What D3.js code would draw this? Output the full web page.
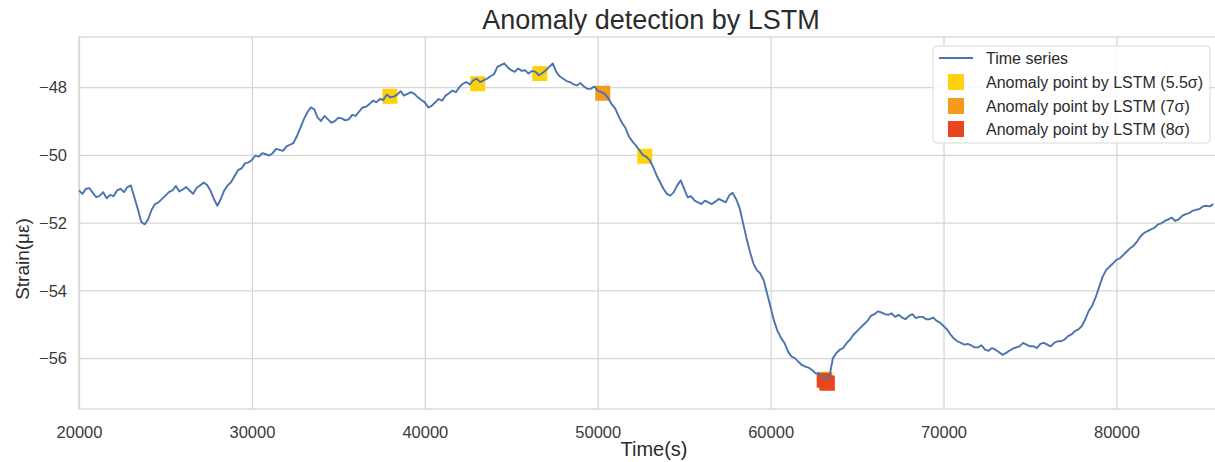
<!DOCTYPE html>
<html>
<head>
<meta charset="utf-8">
<script src="https://cdn.jsdelivr.net/npm/d3@7"></script>
<style>
  body { margin: 0; background: #fff; }
  text { font-family: "Liberation Sans", Arial, sans-serif; }
</style>
</head>
<body>
<script>
// sampled strain series, one reading every 200 s from t0
const t0 = 20000
const dt = 200
const strain = [
  -51.05, -51.15, -51.0, -50.98, -51.12, -51.25, -51.2, -51.1, -51.28, -51.18,
  -51.22, -51.05, -51.0, -51.1, -50.95, -50.9, -51.25, -51.6, -51.98, -52.05,
  -51.9, -51.62, -51.45, -51.4, -51.3, -51.2, -51.1, -51.05, -50.92, -51.08,
  -51.02, -50.95, -51.05, -51.15, -50.98, -50.9, -50.82, -50.88, -51.05, -51.3,
  -51.5, -51.3, -51.05, -50.9, -50.8, -50.62, -50.45, -50.4, -50.25, -50.22,
  -50.15, -50.02, -50.05, -49.95, -49.98, -50.02, -49.95, -49.82, -49.85, -49.88,
  -49.75, -49.7, -49.65, -49.45, -49.2, -48.95, -48.75, -48.6, -48.65, -48.9,
  -49.0, -48.85, -48.95, -49.05, -49.0, -48.9, -48.92, -48.98, -48.95, -48.82,
  -48.85, -48.72, -48.6, -48.58, -48.5, -48.4, -48.45, -48.35, -48.38, -48.22,
  -48.3, -48.28, -48.22, -48.12, -48.25, -48.2, -48.15, -48.2, -48.3, -48.38,
  -48.45, -48.6, -48.55, -48.45, -48.35, -48.4, -48.25, -48.18, -48.1, -48.15,
  -48.0, -47.9, -47.85, -47.92, -47.8, -47.75, -47.85, -47.8, -47.75, -47.68,
  -47.62, -47.4, -47.35, -47.3, -47.42, -47.5, -47.55, -47.45, -47.52, -47.5,
  -47.6, -47.52, -47.55, -47.65, -47.58, -47.5, -47.4, -47.3, -47.55, -47.68,
  -47.75, -47.82, -47.85, -47.92, -47.95, -47.88, -47.98, -48.05, -48.05, -47.98,
  -48.1, -48.15, -48.2, -48.32, -48.5, -48.62, -48.85, -49.05, -49.2, -49.45,
  -49.6, -49.72, -49.85, -50.0, -50.05, -50.15, -50.35, -50.6, -50.8, -51.0,
  -51.15, -51.2, -51.1, -50.9, -50.75, -51.0, -51.25, -51.22, -51.35, -51.4,
  -51.45, -51.35, -51.4, -51.45, -51.38, -51.3, -51.35, -51.4, -51.2, -51.12,
  -51.3, -51.55, -52.0, -52.45, -52.85, -53.2, -53.4, -53.5, -53.7, -54.1,
  -54.5, -54.9, -55.2, -55.4, -55.55, -55.8, -55.95, -56.0, -56.1, -56.2,
  -56.25, -56.28, -56.35, -56.45, -56.45, -56.55, -56.6, -56.55, -56.0, -55.85,
  -55.75, -55.7, -55.55, -55.45, -55.3, -55.2, -55.1, -55.0, -54.9, -54.75,
  -54.7, -54.62, -54.65, -54.7, -54.72, -54.68, -54.78, -54.72, -54.8, -54.85,
  -54.75, -54.7, -54.82, -54.78, -54.78, -54.85, -54.85, -54.8, -54.9, -54.95,
  -55.05, -55.15, -55.3, -55.42, -55.5, -55.55, -55.6, -55.58, -55.62, -55.68,
  -55.68, -55.62, -55.75, -55.78, -55.7, -55.75, -55.82, -55.9, -55.85, -55.78,
  -55.72, -55.68, -55.65, -55.55, -55.6, -55.65, -55.65, -55.7, -55.58, -55.55,
  -55.6, -55.65, -55.55, -55.5, -55.5, -55.45, -55.35, -55.3, -55.2, -55.15,
  -55.05, -54.85, -54.6, -54.45, -54.2, -53.9, -53.6, -53.4, -53.3, -53.2,
  -53.1, -53.05, -52.95, -52.85, -52.75, -52.68, -52.55, -52.4, -52.3, -52.25,
  -52.2, -52.15, -52.05, -52.02, -51.95, -51.9, -51.85, -51.95, -51.9, -51.8,
  -51.75, -51.72, -51.65, -51.62, -51.6, -51.52, -51.5, -51.52, -51.45
]

// anomaly points [time, strain]
const anom55 = [[37980, -48.27], [43060, -47.9], [46650, -47.6], [52720, -50.04], [63150, -56.62]]
const anom7 = [[50290, -48.18], [63230, -56.72]]
const anom8 = [[63100, -56.65], [63280, -56.74]]

const xTicks = [20000, 30000, 40000, 50000, 60000, 70000, 80000]
const yTicks = [-48, -50, -52, -54, -56]

const legendLabels = ['Time series', 'Anomaly point by LSTM (5.5σ)', 'Anomaly point by LSTM (7σ)', 'Anomaly point by LSTM (8σ)']

const W = 1215, H = 462
const m = { left: 79, right: 1215, top: 37, bottom: 409 }
const lineColor = '#4c72b0'
const c55 = '#fdd20a', c7 = '#f59b1c', c8 = '#e9451f'

const svg = d3.select('body').append('svg')
  .attr('width', W)
  .attr('height', H)

const x = d3.scaleLinear().domain([20000, 85700]).range([m.left, m.right])
const y = d3.scaleLinear().domain([-57.5, -46.52]).range([m.bottom, m.top])

// grid
svg.append('g')
  .attr('transform', `translate(0,${m.bottom})`)
  .call(d3.axisBottom(x).tickValues(xTicks).tickSize(-(m.bottom - m.top)).tickFormat(d => d))
  .call(g => g.select('.domain').remove())
  .call(g => g.selectAll('line').attr('stroke', '#d6d6d6').attr('stroke-width', 1.3))
  .call(g => g.selectAll('text').attr('dy', null).attr('y', 29)
    .attr('font-size', 16.5).attr('fill', '#3a3a3a'))

svg.append('g')
  .attr('transform', `translate(${m.left},0)`)
  .call(d3.axisLeft(y).tickValues(yTicks).tickSize(-(m.right - m.left)).tickFormat(d => '\u2212' + Math.abs(d)))
  .call(g => g.select('.domain').remove())
  .call(g => g.selectAll('line').attr('stroke', '#d6d6d6').attr('stroke-width', 1.3))
  .call(g => g.selectAll('text').attr('x', -12).attr('dy', '0.35em')
    .attr('font-size', 16.5).attr('fill', '#3a3a3a'))

// spines
svg.append('rect')
  .attr('x', m.left).attr('y', m.top)
  .attr('width', m.right - m.left + 5).attr('height', m.bottom - m.top)
  .attr('fill', 'none')
  .attr('stroke', '#d6d6d6')
  .attr('stroke-width', 1.3)

// anomaly markers (under the line)
const sq = 15
function drawSquares(data, color) {
  svg.append('g').selectAll('rect')
    .data(data)
    .enter()
    .append('rect')
    .attr('x', d => x(d[0]) - sq / 2)
    .attr('y', d => y(d[1]) - sq / 2)
    .attr('width', sq)
    .attr('height', sq)
    .attr('fill', color)
}
drawSquares(anom55, c55)
drawSquares(anom7, c7)
drawSquares(anom8, c8)

const series = strain.map((v, i) => [t0 + i * dt, v])

svg.append('path')
  .datum(series)
  .attr('fill', 'none')
  .attr('stroke', lineColor)
  .attr('stroke-width', 1.9)
  .attr('stroke-linejoin', 'round')
  .attr('d', d3.line().x(d => x(d[0])).y(d => y(d[1])))

// title and axis labels
svg.append('text')
  .attr('x', (m.left + m.right) / 2 + 4)
  .attr('y', 29)
  .attr('text-anchor', 'middle')
  .attr('font-size', 27)
  .attr('fill', '#2b2b2b')
  .text('Anomaly detection by LSTM')

svg.append('text')
  .attr('x', (m.left + m.right) / 2 + 7)
  .attr('y', 456)
  .attr('text-anchor', 'middle')
  .attr('font-size', 20)
  .attr('fill', '#2b2b2b')
  .text('Time(s)')

svg.append('text')
  .attr('transform', `translate(29,${(m.top + m.bottom) / 2 + 36}) rotate(-90)`)
  .attr('text-anchor', 'middle')
  .attr('font-size', 19)
  .attr('fill', '#2b2b2b')
  .text('Strain(με)')

// legend
const legend = svg.append('g').attr('transform', 'translate(933,46)')
legend.append('rect')
  .attr('width', 277).attr('height', 97)
  .attr('rx', 4)
  .attr('fill', 'rgba(255,255,255,0.85)')
  .attr('stroke', '#d9d9d9')

const rowY = [12, 36, 60, 83]
legend.append('line')
  .attr('x1', 6).attr('x2', 40)
  .attr('y1', rowY[0]).attr('y2', rowY[0])
  .attr('stroke', lineColor).attr('stroke-width', 2)

const sqColors = [c55, c7, c8]
legend.selectAll('rect.sw')
  .data(sqColors)
  .enter()
  .append('rect')
  .attr('class', 'sw')
  .attr('x', 15)
  .attr('y', (d, i) => rowY[i + 1] - 8)
  .attr('width', 16).attr('height', 16)
  .attr('fill', d => d)

legend.selectAll('text')
  .data(legendLabels)
  .enter()
  .append('text')
  .attr('x', 53)
  .attr('y', (d, i) => rowY[i])
  .attr('dy', '0.35em')
  .attr('font-size', 16)
  .attr('fill', '#2b2b2b')
  .text(d => d)
</script>
</body>
</html>
